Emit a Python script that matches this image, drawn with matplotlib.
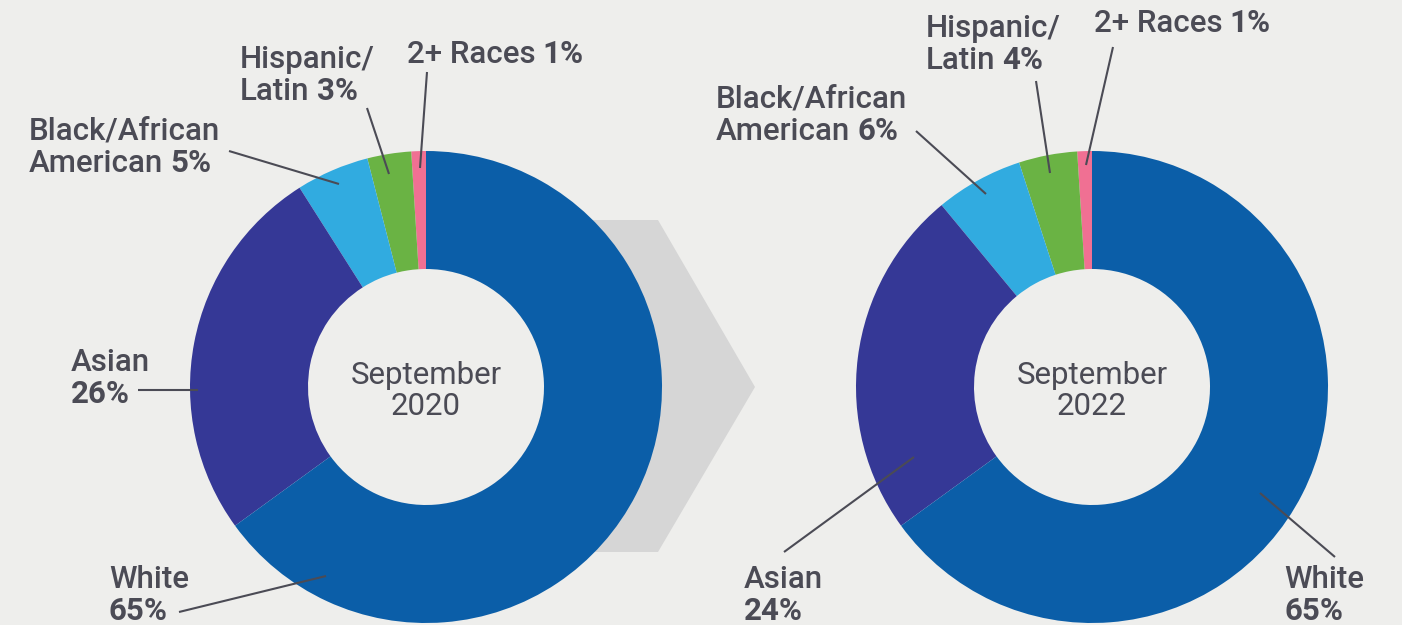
import matplotlib
matplotlib.use("Agg")
import matplotlib.pyplot as plt
from matplotlib.patches import Polygon

# data
groups = ["2+ Races", "Hispanic/Latin", "Black/African American", "Asian", "White"]
share_2020 = [1, 3, 5, 26, 65]
share_2022 = [1, 4, 6, 24, 65]
colors = ["#f07093", "#6ab344", "#31abe0", "#353896", "#0b5ea8"]
center_titles = ["September\n2020", "September\n2022"]

# how each name is broken over lines (percent goes after the last line)
name_lines = [["2+ Races"], ["Hispanic/", "Latin"], ["Black/African", "American"],
              ["Asian", ""], ["White", ""]]

W, H = 1402, 625
BG = "#eeeeec"
TXT = "#4b4b55"
FONT = "Roboto"
FS = 22.5


def Y(y):
    # pixel row (from top) -> data y
    return H - y


# label layout per chart: x, first baseline, leader start, leader end (pixels)
layout_2020 = [
    (407, 63, (427, 72), (420, 168)),
    (240, 68, (367, 108), (389, 174)),
    (29, 140, (229, 151), (339, 184)),
    (71, 371, (138, 390), (198, 390)),
    (109, 588, (179, 612), (326, 576)),
]
layout_2022 = [
    (1094, 32, (1113, 47), (1086, 165)),
    (926, 37, (1036, 81), (1050, 173)),
    (716, 108, (916, 131), (986, 194)),
    (744, 588, (784, 552), (914, 457)),
    (1284, 588, (1335, 557), (1260, 493)),
]

fig = plt.figure(figsize=(W / 100, H / 100), dpi=100, facecolor=BG)
ax = fig.add_axes([0, 0, 1, 1])
ax.set_xlim(0, W)
ax.set_ylim(0, H)
ax.set_aspect("equal")
ax.axis("off")
ax.set_facecolor(BG)

# grey chevron between the two donuts (left edge hidden behind the ring)
chevron = Polygon([(580, Y(220)), (658, Y(220)), (755, Y(387)), (658, Y(552)), (580, Y(552))],
                  closed=True, facecolor="#d6d6d6", edgecolor="none", zorder=0)
ax.add_patch(chevron)

renderer = fig.canvas.get_renderer()
LINE_GAP = 32

charts = [
    (share_2020, (426, 387), layout_2020, center_titles[0]),
    (share_2022, (1092, 387), layout_2022, center_titles[1]),
]

for shares, (cx, cy), layout, title in charts:
    ax.pie(shares, colors=colors, startangle=90, counterclock=True,
           center=(cx, Y(cy)), radius=236,
           wedgeprops=dict(width=118, edgecolor="none"), frame=True)

    ax.text(cx, Y(cy) - 4, title, ha="center", va="center", fontsize=FS,
            family=FONT, color=TXT, linespacing=1.05, zorder=5)

    for lines, share, (lx, base, p0, p1) in zip(name_lines, shares, layout):
        for i, line in enumerate(lines):
            yb = Y(base + i * LINE_GAP)
            last = i == len(lines) - 1
            xpos = lx
            if line:
                t = ax.text(lx, yb, line, ha="left", va="baseline", fontsize=FS,
                            family=FONT, fontweight="medium", color=TXT, zorder=5)
                if last:
                    xpos = lx + t.get_window_extent(renderer=renderer).width + 7
            if last:
                ax.text(xpos, yb, f"{share}%", ha="left", va="baseline", fontsize=FS,
                        family=FONT, fontweight="bold", color=TXT, zorder=5)
        ax.plot([p0[0], p1[0]], [Y(p0[1]), Y(p1[1])], color=TXT, lw=1.5,
                solid_capstyle="butt", zorder=4)

ax.set_xlim(0, W)
ax.set_ylim(0, H)
fig.savefig("out.png", dpi=100, facecolor=BG)
